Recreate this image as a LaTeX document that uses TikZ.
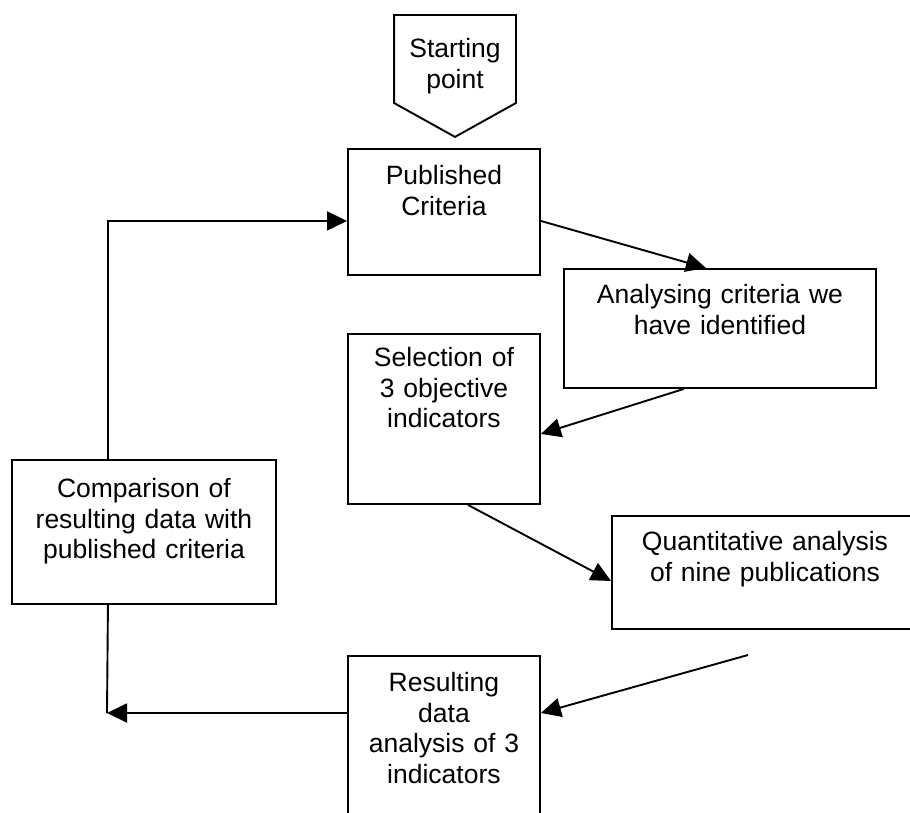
\documentclass[tikz,border=0pt]{standalone}
\usepackage{fontspec}
\setmainfont{Liberation Sans}
\usetikzlibrary{arrows.meta}
\tikzset{
  stage/.style={draw, line width=1.9pt, inner sep=0pt, anchor=north west, align=center,
    font=\fontsize{26.5}{30.5}\selectfont},
  flow/.style={line width=1.9pt, -{Triangle[length=20pt,width=19pt]}}
}
\begin{document}
\begin{tikzpicture}[x=1pt,y=-1pt]
\path[use as bounding box, clip] (0,0) rectangle (910,812);
% Starting point
\node[stage, draw=none, anchor=north, text width=120pt, text height=42pt, text depth=78pt] (start) at (455,15) {Starting\\point};
\draw[line width=1.9pt] (start.north west) -- (start.north east) -- ([yshift=-88pt]start.north east)
  -- (start.south) -- ([yshift=-88pt]start.north west) -- cycle;
% Stages
\node[stage, text width=192pt, text height=36pt, text depth=90pt] (pub) at (347,148) {Published\\Criteria};
\node[stage, text width=312pt, text height=35pt, text depth=84pt] (ana) at (563,268) {Analysing criteria we\\have identified};
\node[stage, text width=192pt, text height=33pt, text depth=137pt] (sel) at (347,333) {Selection of\\3 objective\\indicators};
\node[stage, text width=264pt, text height=38pt, text depth=106pt] (comp) at (11,459) {Comparison of\\resulting data with\\published criteria};
\node[stage, text width=306pt, text height=35pt, text depth=78pt] (quant) at (611,515) {Quantitative analysis\\of nine publications};
\node[stage, text width=192pt, text height=36pt, text depth=144pt] (res) at (347,655) {Resulting\\data\\analysis of 3\\indicators};
% Loose ends
\coordinate (loose) at (748,655);
\coordinate (corner) at (107,713);
% Arrows
\draw[flow] ([yshift=-9pt]pub.east) -- ([xshift=-14pt]ana.north);
\draw[flow] ([xshift=-36pt]ana.south) -- ([yshift=-15pt]sel.east);
\draw[flow] ([xshift=24pt]sel.south) -- ([yshift=-8.5pt]quant.west);
\draw[flow] (loose) -- ([yshift=-58pt]res.north east);
\draw[flow] ([yshift=-58pt]res.north west) -- (corner);
\draw[line width=1.9pt] ([xshift=-36pt]comp.south) -- (corner);
\draw[flow] ([xshift=-36pt]comp.north) |- ([yshift=-9pt]pub.west);
\end{tikzpicture}
\end{document}
